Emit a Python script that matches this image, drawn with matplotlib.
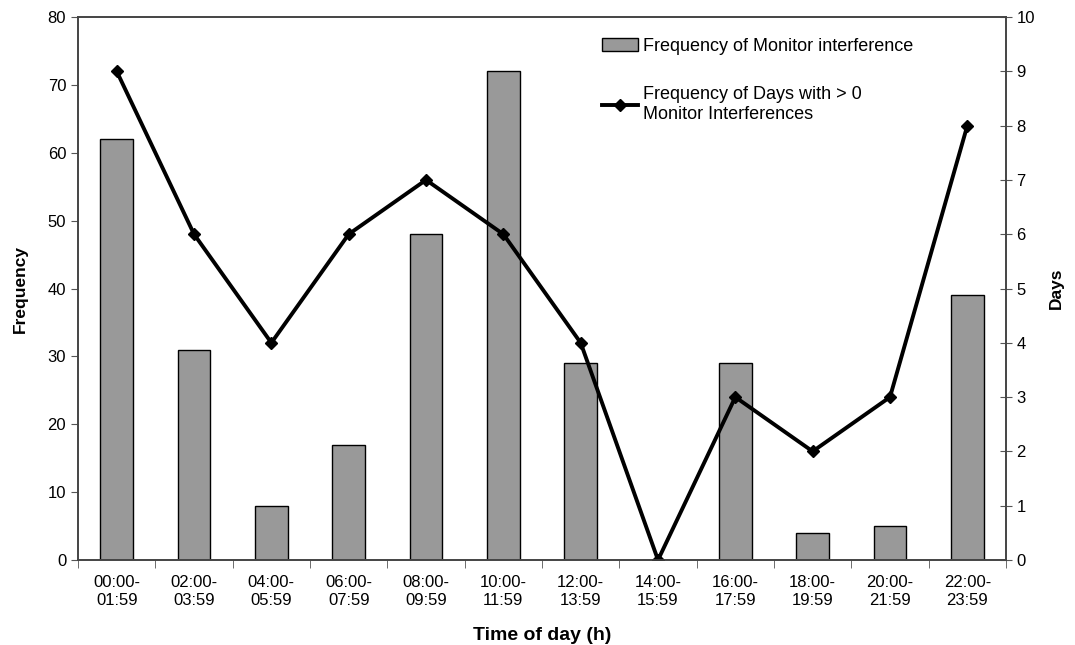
import matplotlib
matplotlib.use('Agg')
import matplotlib.pyplot as plt
import numpy as np

plt.rcParams['font.family'] = ['Liberation Sans', 'DejaVu Sans']

labels = ['00:00-\n01:59', '02:00-\n03:59', '04:00-\n05:59', '06:00-\n07:59',
          '08:00-\n09:59', '10:00-\n11:59', '12:00-\n13:59', '14:00-\n15:59',
          '16:00-\n17:59', '18:00-\n19:59', '20:00-\n21:59', '22:00-\n23:59']
interference = [62, 31, 8, 17, 48, 72, 29, 0, 29, 4, 5, 39]
days = [9, 6, 4, 6, 7, 6, 4, 0, 3, 2, 3, 8]

x = np.arange(len(labels))

fig = plt.figure(figsize=(10.75, 6.45), dpi=100)
ax1 = fig.add_axes([0.0726, 0.1318, 0.8632, 0.8418])
bars = ax1.bar(x, interference, width=0.42, color='#999999',
               edgecolor='black', linewidth=1.0,
               label='Frequency of Monitor interference')
ax1.set_xlim(-0.5, len(labels) - 0.5)
ax1.set_ylim(0, 80)
ax1.set_yticks(range(0, 81, 10))
ax1.set_xticks(x)
ax1.set_xticklabels(labels, fontsize=12, linespacing=1.2)
ax1.tick_params(axis='x', length=0, pad=11)
ax1.set_xticks(np.arange(-0.5, len(labels), 1), minor=True)
ax1.tick_params(axis='x', which='minor', length=6, direction='out', color='#555555')
ax1.tick_params(axis='y', length=5, direction='out', labelsize=12, color='#555555')
ax1.set_xlabel('Time of day (h)', fontsize=14, fontweight='bold', labelpad=14)
ax1.set_ylabel('Frequency', fontsize=12.5, fontweight='bold', labelpad=14)
for s in ax1.spines.values():
    s.set_color('#444444')
    s.set_linewidth(1.2)

ax2 = ax1.twinx()
line, = ax2.plot(x, days, color='black', linewidth=2.8, marker='D',
                 markersize=6.5, label='Frequency of Days with > 0\nMonitor Interferences')
ax2.set_ylim(0, 10)
ax2.set_yticks(range(0, 11))
ax2.tick_params(axis='y', length=8, direction='inout', labelsize=12, color='#555555')
ax2.set_ylabel('Days', fontsize=12.5, fontweight='bold', labelpad=10)
for s in ax2.spines.values():
    s.set_color('#444444')
    s.set_linewidth(1.2)

leg = ax1.legend([bars, line],
                 ['Frequency of Monitor interference',
                  'Frequency of Days with > 0\nMonitor Interferences'],
                 loc='upper left', bbox_to_anchor=(0.547, 0.992), frameon=False,
                 fontsize=13, handlelength=2.0, handletextpad=0.3,
                 labelspacing=1.75)

fig.savefig('out.png', dpi=100)
